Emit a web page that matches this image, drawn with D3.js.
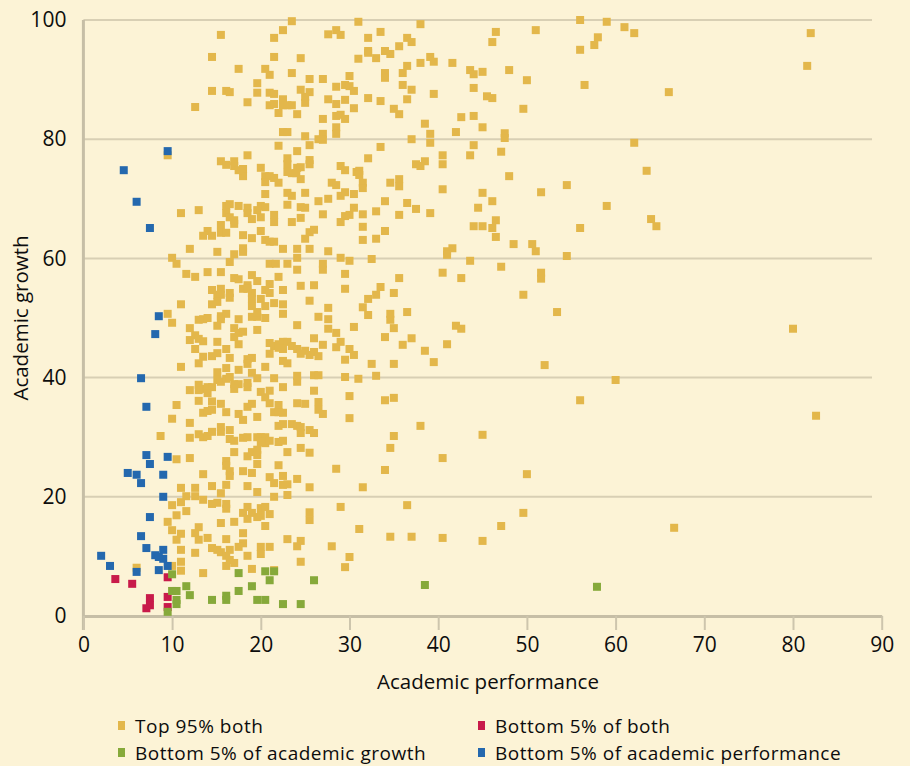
<!DOCTYPE html>
<html><head><meta charset="utf-8">
<script src="https://cdn.jsdelivr.net/npm/d3@7"></script>
<style>
body{margin:0;background:#fcf3d6;}
svg{display:block}
text{font-family:"Open Sans",sans-serif;fill:#0d0d0d}
</style>
</head><body>
<svg id="chart" width="910" height="766"></svg>
<script>
const xTicks=[0,10,20,30,40,50,60,70,80,90];
const yTicks=[0,20,40,60,80,100];
const seriesNames=["Top 95% both","Bottom 5% of both","Bottom 5% of academic growth","Bottom 5% of academic performance"];
const seriesColors=["#e3b74b","#c81a4a","#86a93a","#2468ae"];
const xTitle="Academic performance";
const yTitle="Academic growth";

const top95=[
[23.5,99.8],[15.5,97.5],[21.5,97.0],[22.5,98.3],[27.6,97.6],[28.5,98.3],[29.0,97.5],[31.0,99.7],
[14.5,93.8],[21.5,93.8],[24.5,93.6],[31.0,93.5],[17.5,91.8],[20.5,91.8],[21.0,90.8],[23.5,91.1],
[25.5,90.1],[27.0,90.1],[30.0,90.6],[19.6,89.4],[28.5,88.8],[29.5,89.1],[30.0,88.9],[14.5,88.1],
[16.1,88.1],[16.5,87.9],[19.6,87.8],[21.0,87.8],[21.5,87.6],[24.5,88.3],[25.5,87.9],[30.5,88.1],
[12.6,85.4],[18.5,86.2],[21.0,85.7],[21.5,85.9],[22.5,86.7],[22.5,85.7],[23.0,85.7],[23.5,85.7],
[25.0,87.1],[25.0,86.1],[27.6,86.7],[28.5,85.9],[29.5,86.6],[30.5,85.2],[22.0,84.4],[24.1,84.2],
[27.0,83.4],[28.5,83.9],[29.0,84.1],[29.5,83.4],[22.5,81.2],[23.0,81.2],[25.0,80.5],[27.0,80.9],
[27.0,79.9],[26.5,80.0],[28.5,82.0],[28.5,80.9],[22.0,78.9],[25.5,79.0],[18.5,77.3],[24.1,78.0],
[15.5,76.3],[16.1,75.7],[17.0,76.3],[17.0,75.5],[18.0,75.0],[18.0,73.8],[17.5,74.8],[20.0,75.2],
[23.0,76.8],[23.0,75.8],[23.0,74.5],[23.5,74.3],[24.1,75.2],[24.5,75.3],[24.0,74.3],[25.5,76.5],
[25.5,75.8],[24.5,73.3],[20.5,73.8],[21.0,73.8],[21.5,73.5],[20.5,72.8],[22.0,72.7],[29.0,75.5],
[29.5,74.8],[30.8,74.5],[28.0,72.7],[28.5,72.3],[20.5,70.8],[23.0,71.0],[23.5,70.5],[25.0,71.0],
[26.5,69.6],[27.6,70.0],[29.0,70.5],[29.5,71.1],[30.5,70.8],[11.0,67.6],[13.0,68.1],[16.1,68.8],
[16.5,69.1],[16.1,67.6],[16.5,66.9],[17.5,68.8],[18.5,68.5],[18.5,67.6],[19.6,68.1],[20.0,68.8],
[20.5,68.6],[21.5,67.3],[23.0,69.0],[24.5,68.6],[25.0,68.5],[27.0,67.4],[29.5,67.1],[30.0,67.3],[30.5,68.5],
[17.0,66.4],[17.0,65.8],[19.0,66.6],[20.0,66.9],[21.5,66.1],[23.5,66.1],[24.5,66.8],[29.0,66.1],
[14.0,64.6],[13.5,63.8],[14.5,63.8],[15.5,65.6],[15.5,64.3],[16.1,64.3],[18.0,63.9],[19.0,63.4],
[20.0,64.6],[20.5,63.1],[21.0,62.8],[21.5,62.8],[22.5,61.6],[24.1,61.6],[25.0,63.3],[25.5,61.6],
[25.5,64.4],[26.0,64.8],[27.6,61.2],[12.0,61.6],[15.1,61.1],[17.0,60.7],[18.0,61.1],[18.0,61.7],
[10.0,60.1],[10.5,59.1],[16.5,59.4],[21.0,59.1],[21.7,59.1],[23.0,59.1],[24.1,60.1],[24.1,58.1],
[27.0,59.1],[27.0,58.1],[29.0,60.1],[30.0,59.6],[11.6,57.4],[12.6,56.9],[14.0,57.7],[15.5,57.7],
[17.0,56.7],[17.5,56.5],[19.0,57.2],[19.6,56.2],[21.0,55.7],[22.0,56.9],[24.5,55.4],[26.0,55.5],
[29.5,57.4],[29.5,54.9],[14.5,54.7],[15.5,54.9],[15.1,53.9],[15.5,53.9],[15.1,52.7],[14.5,52.3],
[16.5,54.2],[16.5,53.4],[18.0,54.9],[18.5,55.5],[19.0,54.2],[18.5,54.9],[19.0,53.2],[19.0,52.0],
[20.0,53.2],[20.5,54.7],[21.0,54.2],[20.5,52.0],[21.5,52.5],[22.5,54.7],[22.5,52.3],[25.5,52.9],
[27.6,51.7],[11.0,52.3],[9.5,50.7],[10.0,49.2],[13.0,49.7],[13.5,49.8],[14.0,50.0],[15.5,50.3],
[16.1,50.7],[15.5,49.8],[15.1,48.7],[17.5,49.8],[19.0,50.2],[19.6,50.2],[19.6,51.0],[20.5,50.0],
[22.5,50.7],[26.5,50.2],[27.6,49.8],[24.1,48.8],[12.0,48.3],[12.6,47.1],[12.0,46.3],[13.0,46.5],
[13.5,46.1],[12.6,44.8],[15.1,46.0],[17.0,48.3],[17.0,46.8],[17.5,47.5],[18.0,47.7],[17.5,45.6],
[16.1,44.8],[19.6,48.0],[21.0,45.8],[21.5,45.3],[22.0,45.6],[22.5,46.0],[23.0,46.0],[22.0,45.0],
[22.5,44.8],[23.5,45.3],[24.1,44.8],[24.5,44.0],[25.0,44.5],[25.5,43.8],[26.0,44.3],[26.5,43.6],
[21.0,44.0],[22.5,42.8],[23.0,42.4],[26.0,46.6],[27.0,45.5],[27.6,48.2],[28.5,47.5],[28.5,45.1],
[29.0,46.0],[30.5,48.5],[30.0,44.8],[30.5,43.8],[29.5,43.0],[13.5,43.5],[14.5,43.6],[15.1,44.1],
[13.0,42.4],[16.5,43.3],[18.5,43.1],[19.0,43.3],[18.5,42.3],[20.5,41.8],[11.0,41.8],[16.1,41.6],
[17.5,41.3],[19.0,40.8],[19.6,39.9],[15.1,40.9],[15.1,39.6],[15.5,39.3],[16.1,39.8],[16.5,40.1],
[17.0,38.9],[17.5,38.9],[18.5,39.1],[18.5,38.4],[17.0,38.1],[13.0,38.8],[13.5,38.1],[14.0,38.4],
[14.5,38.4],[13.0,37.9],[14.0,37.4],[12.0,37.9],[21.5,39.9],[22.5,38.4],[24.1,40.3],[24.1,39.3],
[26.0,40.4],[26.5,40.4],[26.0,37.8],[29.5,40.1],[31.0,39.8],[30.0,36.9],[20.0,37.6],[21.0,37.8],[20.5,36.7],
[10.5,35.4],[13.0,36.1],[14.5,36.0],[15.5,35.6],[13.5,34.1],[14.0,34.4],[14.5,34.6],[16.1,34.2],
[17.5,33.9],[18.0,32.9],[18.5,35.1],[19.0,35.6],[19.6,33.4],[21.0,35.7],[21.5,34.2],[22.0,35.4],
[22.0,34.2],[22.5,34.1],[24.1,35.7],[25.0,35.6],[26.5,35.9],[26.5,34.6],[27.0,33.9],[30.0,33.2],
[10.0,33.1],[12.0,32.4],[8.7,30.2],[12.0,29.9],[13.0,30.5],[13.5,30.0],[14.0,30.2],[14.5,30.9],
[15.5,31.7],[15.5,30.9],[16.5,31.2],[16.5,29.7],[17.0,29.4],[18.0,29.9],[18.5,30.0],[19.6,30.0],
[20.0,30.0],[20.5,30.0],[20.5,29.0],[20.0,29.2],[21.0,29.4],[22.0,31.9],[22.5,32.2],[23.5,32.2],
[24.1,31.9],[24.5,31.7],[24.5,30.7],[25.5,31.2],[26.0,30.7],[22.0,29.2],[22.5,29.4],[17.0,27.5],
[18.5,26.8],[19.0,27.5],[19.6,27.9],[19.6,27.0],[23.0,27.5],[24.5,28.2],[25.5,27.4],[10.5,26.3],
[12.0,26.5],[16.1,26.0],[16.1,25.2],[19.6,25.5],[22.0,25.3],[16.5,24.3],[16.5,23.5],[18.0,24.3],
[19.0,24.0],[13.5,23.8],[21.0,23.3],[21.5,22.3],[22.5,23.5],[22.5,22.0],[23.0,22.1],[24.1,23.0],
[25.5,21.6],[28.5,24.7],[11.0,21.5],[12.6,21.5],[12.6,20.1],[11.6,20.1],[14.5,21.8],[15.5,20.6],
[16.1,22.0],[13.5,19.5],[18.5,21.8],[19.6,20.8],[21.5,20.0],[23.0,20.3],[10.0,18.6],[11.0,19.1],
[11.6,17.6],[10.5,16.9],[14.5,18.8],[15.1,19.0],[16.1,18.8],[16.1,18.0],[18.0,17.3],[18.5,18.3],
[18.5,16.3],[19.0,17.3],[20.0,18.1],[20.5,18.3],[20.0,16.8],[19.6,16.6],[20.5,15.1],[21.0,17.1],
[15.5,15.6],[17.0,15.8],[25.5,17.4],[25.5,16.1],[29.0,18.3],[9.5,15.8],[10.0,14.4],[13.0,14.9],
[12.6,13.9],[13.0,12.8],[10.5,12.8],[11.0,13.8],[14.0,13.1],[18.0,13.9],[18.0,12.2],[17.5,11.6],
[16.1,12.9],[14.5,11.4],[15.1,11.1],[15.5,10.7],[16.5,11.1],[20.0,11.6],[20.0,10.4],[21.0,11.6],
[18.5,10.1],[16.1,10.1],[16.1,8.4],[16.5,9.4],[17.0,8.9],[12.6,10.6],[11.0,9.1],[11.0,7.6],
[13.5,7.2],[19.0,7.9],[23.0,12.9],[24.1,11.7],[24.5,12.6],[28.0,11.7],[30.0,9.9],[29.5,8.2],
[24.5,9.1],[21.5,7.7],[10.0,8.4],[11.0,11.1],[6.0,8.1],[9.5,77.3],
[38.0,99.3],[46.5,98.0],[51.0,98.3],[33.5,98.0],[32.1,97.0],[36.5,97.0],[37.0,96.3],[35.6,95.6],
[46.1,96.3],[32.1,94.8],[32.1,94.5],[34.0,94.8],[34.6,94.3],[33.0,93.6],
[39.1,93.8],[39.5,93.0],[38.0,92.8],[41.6,92.8],[36.5,92.3],[36.0,91.1],[34.0,91.1],[34.0,90.3],
[43.6,91.6],[44.0,90.9],[45.0,91.3],[48.0,91.6],[50.0,89.9],[36.0,89.1],[37.0,88.3],[44.0,88.6],
[39.5,87.6],[45.5,87.2],[46.1,86.9],[32.1,86.9],[33.5,86.4],[36.5,86.7],[35.0,85.1],[35.6,84.2],
[49.6,85.1],[42.6,83.7],[44.0,83.9],[38.5,82.6],[45.0,82.0],[39.1,80.9],[39.1,79.4],[42.0,81.2],
[47.5,81.0],[47.5,80.2],[37.0,80.0],[33.5,78.7],[44.0,79.0],[47.1,77.9],[32.1,76.8],[40.5,77.3],
[40.5,75.8],[43.6,77.3],[37.5,75.8],[38.0,75.5],[38.5,76.3],[31.1,74.7],[31.1,74.0],[48.0,73.8],
[31.5,72.7],[31.5,71.8],[34.6,72.7],[35.6,73.3],[35.6,72.1],[40.5,71.6],[45.0,71.0],[51.6,71.1],
[34.0,69.6],[36.5,69.3],[37.5,68.3],[46.1,69.6],[44.5,68.5],[31.5,67.4],[33.0,67.9],[35.6,67.3],
[39.1,67.6],[46.5,66.4],
[31.5,65.3],[31.5,63.1],[33.0,63.3],[34.0,64.6],[44.0,65.4],[45.0,65.4],[46.1,65.1],[46.5,63.6],
[48.5,62.4],[50.6,62.4],[51.0,61.2],[41.0,61.2],[41.6,61.7],[41.0,60.6],[43.6,59.6],[32.5,59.9],
[40.5,57.6],[42.6,56.7],[47.1,58.6],[51.6,57.6],[51.6,56.6],[35.6,56.7],[33.5,55.2],[33.0,53.9],
[32.1,53.2],[31.5,51.8],[32.1,50.5],[35.0,54.2],[49.6,53.9],[34.6,50.7],[34.6,49.7],[36.5,51.0],
[53.4,51.0],[35.0,48.3],[42.0,48.7],[42.6,48.2],[34.0,46.8],[37.0,46.6],[36.0,45.5],[41.0,45.6],
[38.5,44.5],[39.5,42.6],[32.5,42.3],[35.0,42.3],[52.0,42.1],[33.0,40.3],[34.0,36.2],[35.0,36.6],
[38.0,31.9],[35.0,30.2],[45.0,30.4],[34.6,28.2],[40.5,26.5],[34.0,24.5],[50.0,23.8],[31.5,21.6],
[36.5,18.6],[49.6,17.3],[47.1,15.1],[31.1,14.6],[34.6,13.3],[37.0,13.3],[40.5,13.1],[45.0,12.6],
[56.0,100],[59.0,99.7],[61.0,98.8],[62.1,97.8],[58.0,97.1],[57.6,95.8],[56.0,95.0],[82.0,97.8],
[81.6,92.3],[56.5,89.1],[66.0,87.9],[62.1,79.4],[63.5,74.7],[54.5,72.3],[59.0,68.8],[64.0,66.6],
[64.6,65.4],[56.0,65.1],[54.5,60.4],
[80.0,48.2],[60.0,39.6],[56.0,36.2],[82.6,33.6],[66.6,14.8]
];
const bottomBoth=[[3.6,6.2],[5.5,5.4],[9.5,6.5],[7.5,3.0],[7.1,1.3],[7.5,1.8],[9.5,3.2],[9.5,1.5]];
const bottomGrowth=[[10.0,7.0],[9.5,0.7],[10.0,4.2],[10.5,4.2],[10.5,2.7],[10.5,2.0],[11.6,5.0],[12.0,3.5],
[14.5,2.7],[16.1,3.4],[16.1,2.7],[17.5,7.2],[17.5,4.2],[19.0,5.0],[19.6,2.7],[20.5,2.7],[20.5,7.5],
[21.5,7.5],[21.0,6.0],[22.5,2.0],[24.5,2.0],[26.0,6.0],[38.5,5.2],[57.9,4.9]];
const bottomPerf=[[9.5,78.0],[4.55,74.8],[6.0,69.5],[7.5,65.1],[8.5,50.3],[8.1,47.3],[6.5,39.9],[7.1,35.1],
[7.1,27.0],[9.5,26.7],[7.5,25.5],[5.0,24.0],[6.0,23.7],[9.0,23.7],[6.5,22.3],[9.0,20.0],[7.5,16.6],
[6.5,13.4],[7.1,11.4],[8.1,10.2],[9.0,11.1],[9.0,9.6],[8.5,9.9],[2.0,10.1],[3.0,8.4],[6.0,7.4],
[8.5,7.7],[9.5,8.4]];

const svg=d3.select("#chart");
svg.append("rect").attr("width",910).attr("height",766).attr("fill","#fcf3d6");

const x=d3.scaleLinear().domain([0,90]).range([83.4,881.7]);
const y=d3.scaleLinear().domain([0,100]).range([616,20]);
const gridRight=872;

svg.append("g").selectAll("line").data(yTicks.filter(d=>d>0)).join("line")
  .attr("x1",x(0)).attr("x2",gridRight).attr("y1",d=>y(d)).attr("y2",d=>y(d))
  .attr("stroke","#d8cfb4").attr("stroke-width",2);

const yAxis=svg.append("g").attr("transform",`translate(${x(0)},0)`)
  .call(d3.axisLeft(y).tickValues(yTicks).tickSize(0).tickPadding(17));
yAxis.select(".domain").remove();
yAxis.selectAll("text").attr("font-size",21).style("font-family","'Open Sans',sans-serif").attr("fill","#0d0d0d");

svg.append("line").attr("x1",x(0)).attr("x2",x(0)).attr("y1",y(100)).attr("y2",y(0)+14)
  .attr("stroke","#c6bea6").attr("stroke-width",3);

const xAxis=svg.append("g").attr("transform",`translate(0,${y(0)})`)
  .call(d3.axisBottom(x).tickValues(xTicks).tickSize(14).tickSizeOuter(0).tickPadding(7));
xAxis.select(".domain").attr("stroke","#c6bea6").attr("stroke-width",3);
xAxis.selectAll(".tick line").attr("stroke","#cdc5ad").attr("stroke-width",2);
xAxis.selectAll("text").attr("font-size",21).style("font-family","'Open Sans',sans-serif").attr("fill","#0d0d0d");

const groups=[[top95,0],[bottomBoth,1],[bottomGrowth,2],[bottomPerf,3]];
const S=8;
groups.forEach(([data,i])=>{
  svg.append("g").selectAll("rect").data(data).join("rect")
    .attr("x",d=>x(d[0])-S/2).attr("y",d=>y(d[1])-S/2)
    .attr("width",S).attr("height",S).attr("fill",seriesColors[i]);
});

svg.append("text").attr("x",488).attr("y",689).attr("text-anchor","middle")
  .attr("font-size",20.5).text(xTitle);
svg.append("text").attr("transform",`translate(28,${y(50)}) rotate(-90)`).attr("text-anchor","middle")
  .attr("font-size",20.5).text(yTitle);

const legendPos=[[118,726],[478,726],[118,753],[478,753]];
[0,1,2,3].forEach((si,k)=>{
  const [lx,ly]=legendPos[k];
  svg.append("rect").attr("x",lx).attr("y",ly-5).attr("width",7).attr("height",9).attr("fill",seriesColors[si]);
  svg.append("text").attr("x",lx+17).attr("y",ly).attr("dy","0.35em").attr("font-size",19)
    .attr("letter-spacing",0.5).text(seriesNames[si]);
});
</script>
</body></html>
